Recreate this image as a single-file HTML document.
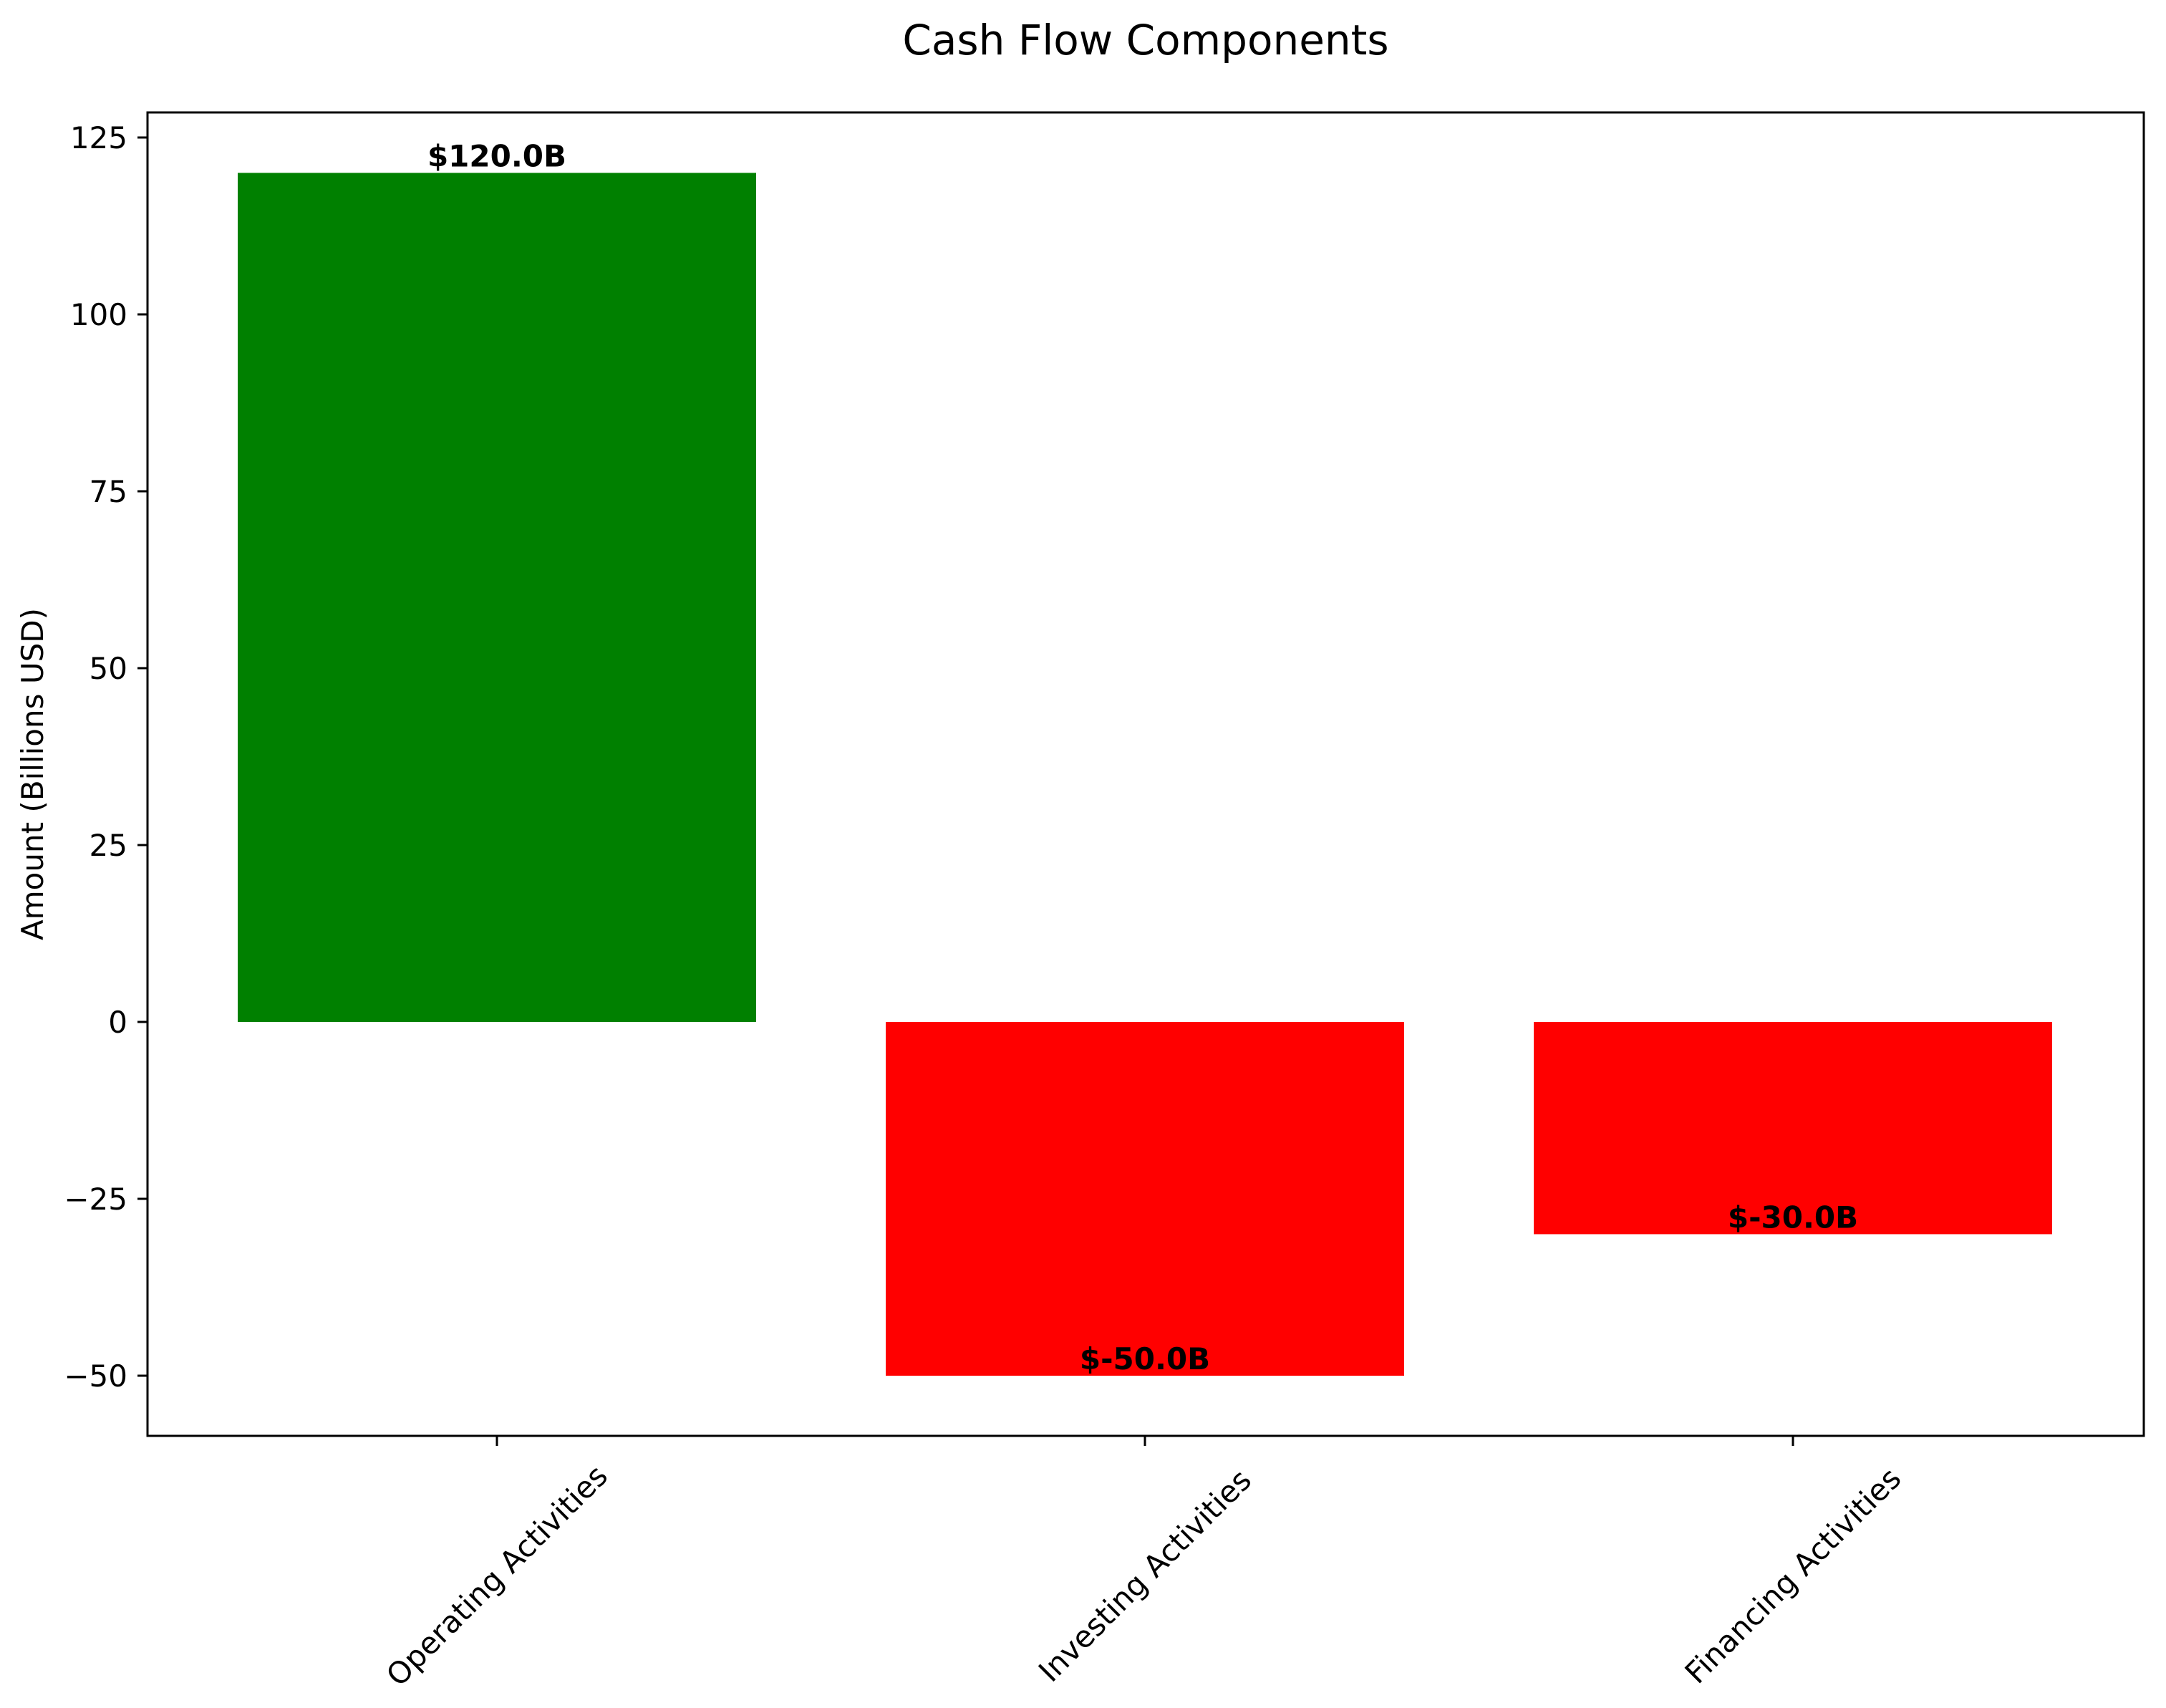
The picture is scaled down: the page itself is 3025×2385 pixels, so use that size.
<!DOCTYPE html>
<html><head><meta charset="utf-8"><style>
body{margin:0;background:#fff}
svg{display:block;font-family:"DejaVu Sans","Liberation Sans",sans-serif}
</style></head><body>
<svg id="chart" width="3025" height="2385" viewBox="0 0 3025 2385">
<rect width="3025" height="2385" fill="#fff"/>
<text x="1600" y="76" font-size="58" text-anchor="middle">Cash Flow Components</text>
<text transform="translate(60,1081) rotate(-90)" font-size="42" text-anchor="middle">Amount (Billions USD)</text>
<g id="bars"></g><g id="yticks"></g><g id="xticks"></g><g id="vals"></g>
<rect x="206" y="157" width="2788" height="1848" fill="none" stroke="#000" stroke-width="3"/>
</svg>
<script>
const categories = ["Operating Activities","Investing Activities","Financing Activities"];
const values = [120, -50, -30];
const yTicks = [-50, -25, 0, 25, 50, 75, 100, 125];
const colors = ["#008000","#ff0000","#ff0000"];
const NS="http://www.w3.org/2000/svg";
function y(v){return 1427 - v*9.88;}
function x(i){return 694 + i*905;}
function mk(tag,attrs,parent,text){const e=document.createElementNS(NS,tag);for(const k in attrs)e.setAttribute(k,attrs[k]);if(text!==undefined)e.textContent=text;document.getElementById(parent).appendChild(e);return e;}
values.forEach((v,i)=>{
  const b=mk('rect',{x:x(i)-362,y:Math.min(y(v),y(0)),width:724,height:Math.abs(y(v)-y(0)),fill:colors[i]},'bars');
  
  
  const t=mk('text',{x:x(i),y:y(v)-9,'font-size':42,'font-weight':'bold','text-anchor':'middle'},'vals','$'+v.toFixed(1)+'B');
  
  
  const tk=mk('line',{x1:x(i),x2:x(i),y1:2005,y2:2019,stroke:'#000','stroke-width':3},'xticks');
  
  
  const l=mk('text',{transform:`translate(${x(i)},2200) rotate(-45)`,'font-size':42,'text-anchor':'middle','dominant-baseline':'central'},'xticks',categories[i]);
  
  
});
yTicks.forEach(v=>{
  const tk=mk('line',{x1:192,x2:206,y1:y(v),y2:y(v),stroke:'#000','stroke-width':3},'yticks');
  
  
  const l=mk('text',{x:178,y:y(v)+15,'font-size':42,'text-anchor':'end'},'yticks',v<0?'\u2212'+Math.abs(v):String(v));
  
  
});
</script>
</body></html>
